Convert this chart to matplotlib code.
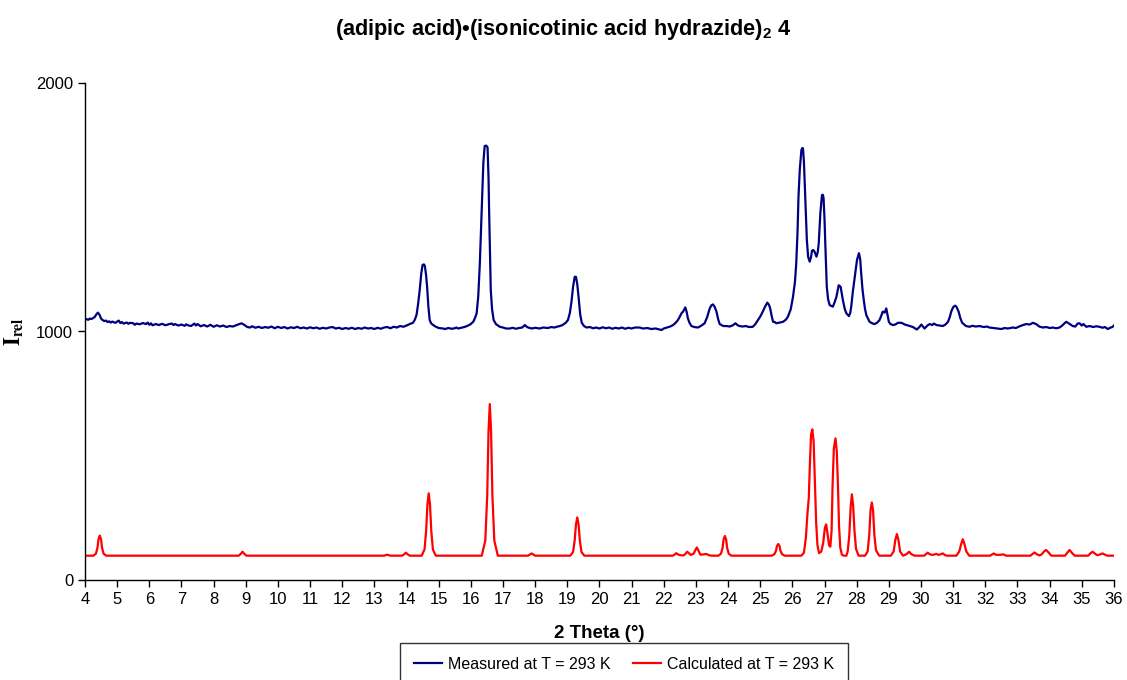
import matplotlib
matplotlib.use("Agg")
import matplotlib.pyplot as plt

plt.rcParams['font.family'] = ['Liberation Sans', 'DejaVu Sans']
plt.rcParams['mathtext.fontset'] = 'custom'
plt.rcParams['mathtext.rm'] = 'Liberation Sans'
plt.rcParams['mathtext.bf'] = 'Liberation Sans:bold'

# measured powder pattern, 2theta (deg) vs intensity
meas_2theta = [
    4.00, 4.05, 4.10, 4.15, 4.20, 4.25, 4.30, 4.35, 4.40, 4.45, 4.50, 4.55, 4.60, 4.65, 4.70, 4.75,
    4.80, 4.85, 4.90, 4.95, 5.00, 5.05, 5.10, 5.15, 5.20, 5.30, 5.35, 5.40, 5.50, 5.55, 5.60, 5.70,
    5.80, 5.90, 5.95, 6.00, 6.05, 6.10, 6.20, 6.30, 6.40, 6.50, 6.60, 6.70, 6.75, 6.80, 6.90, 7.00,
    7.10, 7.15, 7.20, 7.30, 7.40, 7.45, 7.50, 7.60, 7.70, 7.80, 7.90, 8.00, 8.10, 8.20, 8.30, 8.40,
    8.50, 8.60, 8.70, 8.80, 8.87, 8.95, 9.05, 9.13, 9.20, 9.30, 9.40, 9.50, 9.60, 9.70, 9.80, 9.90,
    10.00, 10.10, 10.20, 10.30, 10.40, 10.50, 10.60, 10.70, 10.80, 10.90, 11.00, 11.10, 11.20, 11.30,
    11.40, 11.50, 11.60, 11.70, 11.80, 11.90, 12.00, 12.10, 12.20, 12.30, 12.40, 12.50, 12.60, 12.70,
    12.80, 12.90, 13.00, 13.10, 13.20, 13.30, 13.40, 13.50, 13.60, 13.70, 13.80, 13.90, 14.00, 14.10,
    14.20, 14.26, 14.31, 14.36, 14.41, 14.46, 14.50, 14.54, 14.57, 14.61, 14.64, 14.68, 14.72, 14.77,
    14.83, 14.90, 15.00, 15.14, 15.20, 15.30, 15.40, 15.50, 15.55, 15.60, 15.70, 15.80, 15.90, 16.00,
    16.08, 16.14, 16.18, 16.23, 16.28, 16.32, 16.35, 16.39, 16.43, 16.48, 16.52, 16.55, 16.57, 16.60,
    16.62, 16.66, 16.71, 16.78, 16.90, 17.00, 17.10, 17.21, 17.30, 17.40, 17.50, 17.60, 17.68, 17.73,
    17.78, 17.90, 18.00, 18.14, 18.25, 18.40, 18.50, 18.60, 18.70, 18.77, 18.85, 18.95, 19.02, 19.08,
    19.13, 19.18, 19.23, 19.27, 19.31, 19.35, 19.40, 19.45, 19.52, 19.60, 19.70, 19.80, 19.90, 20.00,
    20.10, 20.20, 20.30, 20.40, 20.50, 20.60, 20.70, 20.80, 20.90, 21.00, 21.10, 21.25, 21.35, 21.50,
    21.60, 21.75, 21.93, 22.00, 22.10, 22.20, 22.29, 22.37, 22.44, 22.50, 22.55, 22.60, 22.67, 22.71,
    22.75, 22.80, 22.86, 22.95, 23.06, 23.15, 23.27, 23.35, 23.43, 23.48, 23.53, 23.58, 23.64, 23.69,
    23.74, 23.85, 23.95, 24.05, 24.15, 24.23, 24.30, 24.36, 24.45, 24.55, 24.65, 24.77, 24.85, 24.93,
    25.00, 25.08, 25.15, 25.22, 25.27, 25.31, 25.36, 25.40, 25.45, 25.50, 25.60, 25.71, 25.80, 25.86,
    25.95, 26.02, 26.08, 26.12, 26.16, 26.19, 26.23, 26.28, 26.31, 26.33, 26.36, 26.38, 26.42, 26.45,
    26.49, 26.54, 26.58, 26.61, 26.65, 26.69, 26.75, 26.79, 26.82, 26.87, 26.92, 26.95, 26.97, 27.00,
    27.02, 27.05, 27.07, 27.11, 27.16, 27.26, 27.32, 27.37, 27.44, 27.50, 27.54, 27.57, 27.63, 27.68,
    27.76, 27.80, 27.83, 27.88, 27.94, 28.01, 28.07, 28.11, 28.14, 28.18, 28.22, 28.26, 28.30, 28.40,
    28.50, 28.56, 28.64, 28.71, 28.77, 28.81, 28.87, 28.92, 28.96, 29.00, 29.05, 29.13, 29.20, 29.28,
    29.39, 29.50, 29.65, 29.75, 29.87, 29.95, 30.01, 30.11, 30.20, 30.27, 30.35, 30.40, 30.48, 30.58,
    30.68, 30.76, 30.84, 30.90, 30.94, 31.00, 31.06, 31.10, 31.17, 31.22, 31.28, 31.40, 31.51, 31.60,
    31.70, 31.82, 31.95, 32.05, 32.13, 32.25, 32.35, 32.50, 32.60, 32.70, 32.86, 32.95, 33.05, 33.15,
    33.27, 33.38, 33.48, 33.58, 33.68, 33.79, 33.90, 34.00, 34.10, 34.20, 34.31, 34.40, 34.48, 34.52,
    34.60, 34.72, 34.80, 34.87, 34.93, 35.00, 35.05, 35.14, 35.25, 35.35, 35.45, 35.55, 35.65, 35.72,
    35.81, 35.90, 35.95, 36.00,
]
meas_counts = [
    1048, 1050, 1047, 1052, 1050, 1054, 1058, 1068, 1076, 1068, 1052, 1046, 1042, 1044, 1038, 1041,
    1036, 1040, 1037, 1035, 1040, 1044, 1034, 1038, 1032, 1036, 1031, 1035, 1033, 1027, 1032, 1029,
    1034, 1030, 1036, 1027, 1033, 1025, 1030, 1026, 1031, 1025, 1029, 1032, 1026, 1030, 1024, 1028,
    1023, 1029, 1025, 1022, 1032, 1024, 1030, 1021, 1026, 1020, 1027, 1019, 1025, 1020, 1024, 1018,
    1022, 1020, 1025, 1030, 1033, 1027, 1018, 1016, 1021, 1015, 1019, 1014, 1018, 1015, 1020, 1013,
    1019, 1014, 1018, 1012, 1017, 1014, 1019, 1013, 1016, 1012, 1017, 1013, 1016, 1011,
    1015, 1012, 1016, 1018, 1012, 1015, 1010, 1014, 1011, 1015, 1010, 1014, 1011, 1016,
    1012, 1014, 1010, 1015, 1011, 1016, 1018, 1013, 1019, 1016, 1022, 1019, 1024, 1030,
    1035, 1048, 1066, 1110, 1167, 1235, 1268, 1270, 1264, 1225, 1180, 1100, 1046, 1032,
    1026, 1020, 1014, 1012, 1010, 1014, 1011, 1013, 1016, 1012, 1015, 1018, 1023, 1030,
    1040, 1058, 1073, 1140, 1274, 1420, 1542, 1680, 1746, 1748, 1741, 1620, 1476, 1300,
    1167, 1090, 1046, 1030, 1019, 1016, 1012, 1012, 1015, 1011, 1014, 1016, 1026, 1020,
    1016, 1012, 1015, 1012, 1016, 1014, 1018, 1016, 1020, 1022, 1026, 1035, 1046, 1075,
    1120, 1180, 1220, 1220, 1190, 1140, 1070, 1035, 1022, 1016, 1018, 1013, 1016, 1012,
    1017, 1013, 1016, 1011, 1015, 1012, 1016, 1011, 1015, 1012, 1016, 1016, 1012, 1014,
    1010, 1012, 1006, 1012, 1016, 1020, 1026, 1035, 1046, 1060, 1073, 1080, 1097, 1080,
    1053, 1035, 1022, 1018, 1016, 1022, 1033, 1058, 1093, 1105, 1109, 1100, 1080, 1050,
    1030, 1022, 1022, 1020, 1025, 1033, 1025, 1022, 1020, 1022, 1018, 1019, 1030, 1046,
    1060, 1080, 1100, 1116, 1108, 1093, 1060, 1039, 1038, 1033, 1036, 1039, 1048, 1059,
    1090, 1140, 1200, 1274, 1400, 1542, 1650, 1730, 1738, 1737, 1680, 1610, 1480, 1368,
    1300, 1281, 1300, 1325, 1328, 1321, 1301, 1320, 1355, 1476, 1549, 1550, 1536, 1450,
    1368, 1260, 1180, 1130, 1106, 1100, 1120, 1140, 1186, 1180, 1150, 1127, 1090, 1073,
    1062, 1075, 1100, 1160, 1220, 1288, 1315, 1290, 1234, 1170, 1127, 1090, 1066, 1039,
    1032, 1030, 1036, 1046, 1065, 1080, 1076, 1093, 1065, 1039, 1030, 1026, 1028, 1035,
    1035, 1028, 1022, 1018, 1008, 1018, 1028, 1012, 1024, 1030, 1026, 1032, 1026, 1024,
    1022, 1028, 1039, 1060, 1080, 1098, 1104, 1100, 1080, 1055, 1035, 1022, 1019, 1023,
    1020, 1022, 1018, 1020, 1016, 1014, 1012, 1010, 1014, 1012, 1016, 1014, 1020, 1025,
    1030, 1028, 1035, 1030, 1020, 1016, 1018, 1014, 1016, 1013, 1016, 1025, 1035, 1039,
    1032, 1022, 1020, 1032, 1033, 1024, 1030, 1019, 1022, 1018, 1021, 1019, 1015, 1018,
    1010, 1016, 1018, 1024,
]

# pattern calculated from the single-crystal structure
calc_2theta = [
    4.00, 4.26, 4.34, 4.39, 4.42, 4.46, 4.50, 4.53, 4.58, 4.66,
    8.78, 8.85, 8.90, 8.95, 9.02,
    13.30, 13.40, 13.50, 13.86, 13.93, 13.98, 14.03, 14.10,
    14.47, 14.56, 14.61, 14.65, 14.69, 14.73, 14.77, 14.82, 14.91,
    16.34, 16.45, 16.51, 16.55, 16.59, 16.63, 16.67, 16.73, 16.84,
    17.78, 17.84, 17.89, 17.94, 18.00,
    19.09, 19.18, 19.23, 19.27, 19.31, 19.35, 19.39, 19.44, 19.53,
    22.28, 22.34, 22.39, 22.44, 22.51, 22.62, 22.68, 22.73, 22.78, 22.84,
    22.93, 22.98, 23.03, 23.08, 23.14, 23.24, 23.30, 23.34, 23.40, 23.48,
    23.70, 23.78, 23.83, 23.86, 23.90, 23.94, 23.97, 24.02, 24.10,
    25.36, 25.44, 25.49, 25.52, 25.56, 25.60, 25.63, 25.68, 25.76,
    26.28, 26.36, 26.42, 26.47, 26.51, 26.54, 26.58, 26.62, 26.66, 26.70, 26.74, 26.78,
    26.83, 26.90, 26.96, 27.01, 27.05, 27.09, 27.14, 27.18, 27.22, 27.25, 27.29, 27.34,
    27.38, 27.42, 27.45, 27.49, 27.54, 27.60, 27.68, 27.72, 27.77, 27.81, 27.85, 27.89,
    27.93, 27.98, 28.06, 28.26, 28.34, 28.39, 28.43, 28.47, 28.51, 28.55, 28.60, 28.70,
    29.06, 29.15, 29.20, 29.25, 29.30, 29.35, 29.44, 29.55, 29.63, 29.70, 29.80,
    30.10, 30.16, 30.21, 30.27, 30.35, 30.42, 30.48, 30.55, 30.62, 30.68, 30.75, 30.82,
    31.10, 31.19, 31.25, 31.30, 31.35, 31.41, 31.50,
    32.15, 32.21, 32.26, 32.32, 32.40, 32.48, 32.57, 32.65,
    33.40, 33.47, 33.53, 33.60, 33.68, 33.75, 33.82, 33.89, 33.96, 34.05,
    34.48, 34.55, 34.62, 34.69, 34.78,
    35.20, 35.27, 35.34, 35.41, 35.48, 35.55, 35.62, 35.65, 35.72, 35.80, 36.00,
]
calc_counts = [
    98, 98, 106, 130, 164, 179, 164, 130, 106, 98,
    98, 106, 114, 106, 98,
    98, 102, 98, 98, 104, 110, 104, 98,
    98, 123, 198, 304, 349, 304, 198, 123, 98,
    98, 159, 342, 598, 708, 598, 342, 159, 98,
    98, 103, 107, 103, 98,
    98, 113, 160, 224, 252, 224, 160, 113, 98,
    98, 103, 108, 103, 100, 99, 106, 114, 108, 101,
    106, 120, 131, 118, 102, 103, 105, 104, 100, 98,
    98, 106, 130, 163, 177, 163, 130, 106, 98,
    98, 104, 117, 137, 145, 137, 117, 104, 98,
    98, 110, 170, 270, 330, 450, 585, 606, 560, 400, 230, 140,
    108, 115, 150, 210, 224, 190, 140, 134, 200, 380, 530, 570,
    520, 370, 220, 130, 102, 98, 98, 115, 180, 290, 345, 300,
    200, 125, 98, 98, 115, 180, 280, 312, 280, 180, 120, 98,
    98, 115, 160, 185, 160, 115, 98, 104, 114, 104, 98,
    98, 105, 110, 104, 101, 103, 105, 101, 104, 107, 100, 98,
    98, 115, 145, 164, 145, 115, 98,
    98, 103, 107, 102, 101, 102, 103, 98,
    98, 105, 111, 104, 99, 103, 114, 121, 112, 98,
    98, 110, 121, 110, 98,
    98, 108, 114, 106, 100, 102, 106, 107, 102, 98, 98,
]

x_ticks = list(range(4, 37))
y_ticks = [0, 1000, 2000]

fig = plt.figure(figsize=(11.27, 6.80), dpi=100)
ax = fig.add_axes([0.0754, 0.147, 0.913, 0.731])

ax.plot(meas_2theta, meas_counts, color='#000080', lw=1.6, label='Measured at T = 293 K')
ax.plot(calc_2theta, calc_counts, color='#ff0000', lw=1.6, label='Calculated at T = 293 K')

ax.set_xlim(4, 36)
ax.set_ylim(0, 2000)
ax.set_xticks(x_ticks)
ax.set_yticks(y_ticks)
ax.tick_params(direction='out', length=5, width=1, labelsize=12, colors='black')
for side in ('top', 'right'):
    ax.spines[side].set_visible(False)
for side in ('left', 'bottom'):
    ax.spines[side].set_linewidth(1)

ax.set_xlabel('2 Theta (°)', fontsize=13.5, fontweight='bold', labelpad=13)
ylab = ax.set_ylabel(r'$\mathbf{I}_{\mathbf{rel}}$', fontsize=16, labelpad=8)
ylab.set_math_fontfamily('stix')

fig.suptitle('(adipic acid)•(isonicotinic acid hydrazide)$_\\mathbf{2}$ 4', x=0.5, y=1 - 30 / 680,
             va='center', fontsize=15.7, fontweight='bold')

# legend sits under the x label; its lower edge runs past the bottom of the figure
leg = fig.legend(loc='upper center', bbox_to_anchor=(624 / 1127, 1 - 643 / 680), ncol=2,
                 fontsize=11.5, frameon=True, fancybox=False, edgecolor='black',
                 handlelength=1.75, columnspacing=1.4, borderpad=0.85, borderaxespad=0,
                 handletextpad=0.4)
leg.get_frame().set_linewidth(1)

fig.savefig('out.png', dpi=100)
